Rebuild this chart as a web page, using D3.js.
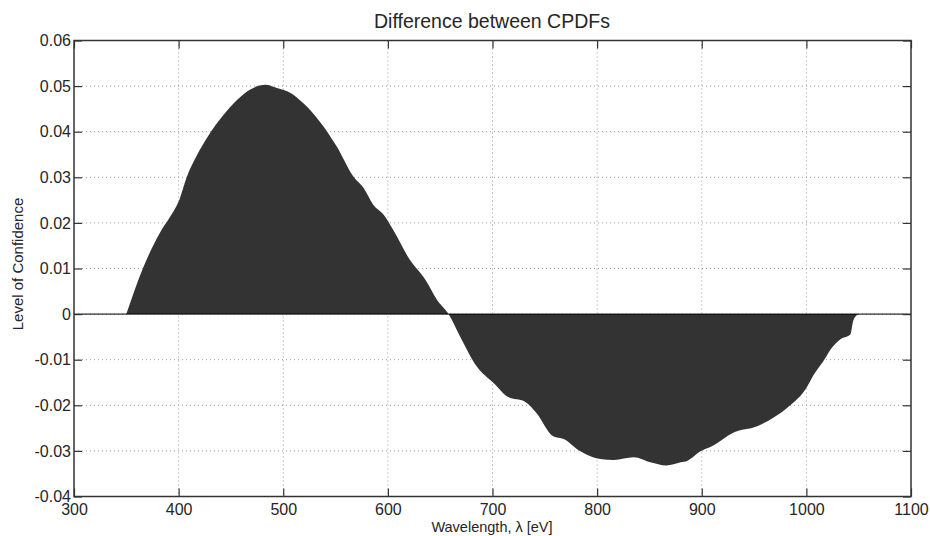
<!DOCTYPE html>
<html>
<head>
<meta charset="utf-8">
<script src="https://cdn.jsdelivr.net/npm/d3@7"></script>
<style>
  body { margin: 0; background: #fff; }
  text { font-family: "Liberation Sans", Arial, sans-serif; fill: #262626; }
</style>
</head>
<body>
<script>
// wavelength samples
var wavelength = [350, 366, 382, 392, 400, 408, 417, 427, 443, 456, 468, 483, 494, 507, 519, 535, 551, 567, 577, 586, 596, 605, 621, 636, 647, 658,
  669, 685, 701, 715, 731, 742, 758, 768, 784, 803, 816, 835, 851, 866, 880, 886, 898, 911, 930, 953, 968, 984, 1000, 1007, 1016, 1024, 1032, 1042, 1045, 1050];
var confidence = [0, 0.0101, 0.0178, 0.0214, 0.0247, 0.0302, 0.0346, 0.0386, 0.0437, 0.047, 0.0492, 0.0503, 0.0496, 0.0485, 0.0463, 0.0422, 0.0368, 0.0302, 0.0276, 0.024, 0.0218, 0.0185, 0.0119, 0.0075, 0.0031, 0,
  -0.0049, -0.0115, -0.0151, -0.0182, -0.0192, -0.0217, -0.0268, -0.0274, -0.0301, -0.0318, -0.032, -0.0314, -0.0325, -0.0332, -0.0325, -0.0322, -0.0302, -0.0288, -0.026, -0.0246, -0.0228, -0.0201, -0.0162, -0.0133, -0.0104, -0.0075, -0.0056, -0.0045, -0.0013, 0];
var xTicks = [300, 400, 500, 600, 700, 800, 900, 1000, 1100];
var yTicks = [-0.04, -0.03, -0.02, -0.01, 0, 0.01, 0.02, 0.03, 0.04, 0.05, 0.06];

var width = 930, height = 536;
var margin = {top: 40.5, right: 19, bottom: 39.5, left: 74};

var svg = d3.select("body").append("svg")
    .attr("width", width)
    .attr("height", height);

var x = d3.scaleLinear().domain([300, 1100]).range([margin.left, width - margin.right]);
var y = d3.scaleLinear().domain([-0.04, 0.06]).range([height - margin.bottom, margin.top]);

var data = wavelength.map(function(w, i) { return {x: w, y: confidence[i]}; });

// grid
svg.append("g").selectAll("line")
    .data(xTicks.slice(1, -1))
    .enter().append("line")
    .attr("x1", function(d) { return x(d); })
    .attr("x2", function(d) { return x(d); })
    .attr("y1", margin.top)
    .attr("y2", height - margin.bottom)
    .attr("stroke", "#999")
    .attr("stroke-width", 1)
    .attr("stroke-dasharray", "1,3");

svg.append("g").selectAll("line")
    .data(yTicks.slice(1, -1))
    .enter().append("line")
    .attr("x1", margin.left)
    .attr("x2", width - margin.right)
    .attr("y1", function(d) { return y(d); })
    .attr("y2", function(d) { return y(d); })
    .attr("stroke", "#999")
    .attr("stroke-width", 1)
    .attr("stroke-dasharray", "1,3");

// filled area
var area = d3.area()
    .x(function(d) { return x(d.x); })
    .y0(y(0))
    .y1(function(d) { return y(d.y); })
    .curve(d3.curveMonotoneX);

svg.append("path")
    .datum(data)
    .attr("d", area)
    .attr("fill", "#333333");

// zero line
svg.append("line")
    .attr("x1", margin.left)
    .attr("x2", width - margin.right)
    .attr("y1", y(0))
    .attr("y2", y(0))
    .attr("stroke", "#000")
    .attr("stroke-width", 1);

// axes, ticks pointing inward on all four sides
var tickLen = 8;
var xAxisB = d3.axisBottom(x).tickValues(xTicks).tickSizeInner(-tickLen).tickSizeOuter(0).tickPadding(7).tickFormat(d3.format("d"));
var xAxisT = d3.axisTop(x).tickValues(xTicks).tickSizeInner(-tickLen).tickSizeOuter(0).tickFormat("");
var yAxisL = d3.axisLeft(y).tickValues(yTicks).tickSizeInner(-tickLen).tickSizeOuter(0).tickPadding(3)
    .tickFormat(function(d) { return d === 0 ? "0" : d3.format(".2f")(d).replace("−", "-"); });
var yAxisR = d3.axisRight(y).tickValues(yTicks).tickSizeInner(-tickLen).tickSizeOuter(0).tickFormat("");

function styleAxis(g) {
  g.select(".domain").remove();
  g.selectAll(".tick line").attr("stroke", "#333").attr("stroke-width", 1.2);
  g.selectAll(".tick text").attr("fill", "#262626").style("font-size", "16px")
    .style("font-family", "'Liberation Sans', Arial, sans-serif");
}

svg.append("g").attr("transform", "translate(0," + (height - margin.bottom) + ")").call(xAxisB).call(styleAxis);
svg.append("g").attr("transform", "translate(0," + margin.top + ")").call(xAxisT).call(styleAxis);
svg.append("g").attr("transform", "translate(" + margin.left + ",0)").call(yAxisL).call(styleAxis);
svg.append("g").attr("transform", "translate(" + (width - margin.right) + ",0)").call(yAxisR).call(styleAxis);

// box
svg.append("rect")
    .attr("x", margin.left)
    .attr("y", margin.top)
    .attr("width", width - margin.left - margin.right)
    .attr("height", height - margin.top - margin.bottom)
    .attr("fill", "none")
    .attr("stroke", "#333")
    .attr("stroke-width", 1.5);

// labels
svg.append("text")
    .attr("x", 492)
    .attr("y", 28)
    .attr("text-anchor", "middle")
    .style("font-size", "19.5px")
    .text("Difference between CPDFs");

svg.append("text")
    .attr("x", 492)
    .attr("y", 532)
    .attr("text-anchor", "middle")
    .style("font-size", "14.5px")
    .text("Wavelength, λ [eV]");

svg.append("text")
    .attr("transform", "translate(22.5,264) rotate(-90)")
    .attr("text-anchor", "middle")
    .style("font-size", "15px")
    .text("Level of Confidence");
</script>
</body>
</html>
